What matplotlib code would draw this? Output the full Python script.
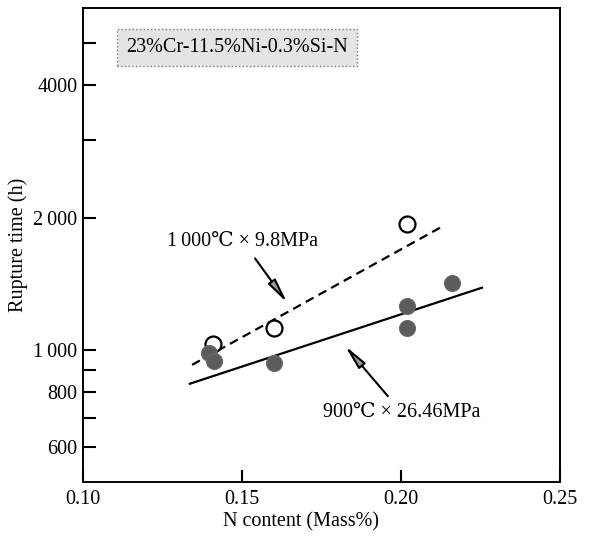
import matplotlib
matplotlib.use("Agg")
import matplotlib.pyplot as plt
from matplotlib.ticker import FixedLocator, FixedFormatter, NullFormatter

plt.rcParams['font.family'] = ['Liberation Serif', 'DejaVu Serif']

# 1000C x 9.8MPa (open circles)
n_open = [0.141, 0.160, 0.202]
t_open = [1032, 1122, 1938]
# 900C x 26.46MPa (filled circles)
n_fill = [0.1396, 0.1412, 0.160, 0.202, 0.202, 0.216]
t_fill = [984, 944, 934, 1260, 1122, 1421]

# fitted lines (end points)
n_dash = [0.1343, 0.2129]
t_dash = [924, 1907]
n_solid = [0.1336, 0.2255]
t_solid = [837, 1385]

y_major = [600, 800, 1000, 2000, 4000]
y_major_lab = ['600', '800', '1\u2009000', '2\u2009000', '4000']
y_minor = [700, 900, 3000, 5000]
x_ticks = [0.10, 0.15, 0.20, 0.25]
x_lab = ['0.10', '0.15', '0.20', '0.25']

fs = 14.5

fig = plt.figure(figsize=(6.08, 5.38), dpi=100)
ax = fig.add_axes([0.1365, 0.1041, 0.7845, 0.8809])

ax.plot(n_dash, t_dash, color='black', ls=(0, (4, 2.5)), lw=1.6, zorder=2)
ax.plot(n_solid, t_solid, color='black', ls='-', lw=1.6, zorder=2)
ax.plot(n_open, t_open, 'o', ms=11.5, mfc='white', mec='black', mew=1.6, zorder=3)
ax.plot(n_fill, t_fill, 'o', ms=11.5, mfc='#5c5c5c', mec='#6a6a6a', mew=0.8, zorder=4)

ax.set_yscale('log')
ax.set_xlim(0.10, 0.25)
ax.set_ylim(500, 6000)

ax.yaxis.set_major_locator(FixedLocator(y_major))
ax.yaxis.set_major_formatter(FixedFormatter(y_major_lab))
ax.yaxis.set_minor_locator(FixedLocator(y_minor))
ax.yaxis.set_minor_formatter(NullFormatter())
ax.xaxis.set_major_locator(FixedLocator(x_ticks))
ax.xaxis.set_major_formatter(FixedFormatter(x_lab))
ax.xaxis.set_minor_locator(FixedLocator([]))

ax.tick_params(axis='both', which='both', direction='in', length=9, width=1.5,
               labelsize=fs, top=False, right=False)
ax.tick_params(axis='y', which='both', pad=4)
ax.tick_params(axis='x', which='both', pad=6)
for s in ax.spines.values():
    s.set_linewidth(1.4)

ax.set_xlabel('N content (Mass%)', fontsize=fs)
ax.set_ylabel('Rupture time (h)', fontsize=fs)
ax.xaxis.set_label_coords(0.457, -0.063)
ax.yaxis.set_label_coords(-0.115, 0.5)

ax.text(0.1484, 4883, '23%Cr-11.5%Ni-0.3%Si-N', fontsize=fs, ha='center', va='center',
        bbox=dict(boxstyle='square,pad=0.45', fc='#e4e4e4', ec='#777777', ls=':', lw=1.0))

arrow = dict(arrowstyle='-|>,head_length=1.0,head_width=0.18', color='black',
             lw=1.5, shrinkA=4, shrinkB=0, fc='#999999')
ax.annotate('1\u2009000\u2103 \u00d7 9.8MPa', xy=(0.1642, 1280), xytext=(0.1503, 1763),
            fontsize=fs, ha='center', va='center', arrowprops=arrow)
ax.annotate('900\u2103 \u00d7 26.46MPa', xy=(0.1824, 1021), xytext=(0.2003, 719),
            fontsize=fs, ha='center', va='center', arrowprops=arrow)

fig.savefig('out.png', dpi=100)
